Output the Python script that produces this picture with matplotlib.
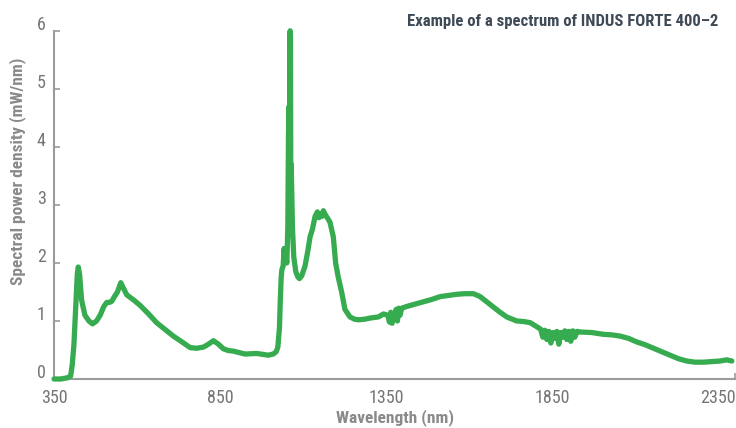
import matplotlib
matplotlib.use("Agg")
import matplotlib.pyplot as plt
from matplotlib import font_manager
import matplotlib.transforms as mtransforms

# ---------------- data ----------------
wavelength = [
    350, 370, 390, 400, 405, 410, 415, 420, 423, 427,
    433, 443, 455, 466, 478, 489, 500, 509, 517, 524,
    532, 541, 551, 556, 569, 590, 609, 635, 659, 685,
    709, 735, 760, 780, 800, 815, 830, 845, 860, 875,
    890, 925, 960, 995, 1010, 1019, 1024, 1029, 1031, 1034,
    1036, 1040, 1043, 1045, 1048, 1051, 1054, 1056, 1058, 1059,
    1060, 1061, 1062, 1063, 1064, 1066, 1068, 1072, 1078, 1084,
    1089, 1096, 1106, 1114, 1121, 1128, 1136, 1143, 1148, 1151,
    1156, 1161, 1168, 1175, 1181, 1191, 1198, 1206, 1216, 1226,
    1241, 1255, 1267, 1285, 1302, 1327, 1342, 1355, 1360, 1364,
    1368, 1372, 1376, 1380, 1384, 1388, 1392, 1397, 1412, 1437,
    1462, 1487, 1513, 1538, 1563, 1588, 1613, 1633, 1653, 1673,
    1693, 1713, 1743, 1765, 1784, 1804, 1815, 1822, 1828, 1834,
    1840, 1846, 1852, 1858, 1864, 1870, 1876, 1882, 1888, 1894,
    1900, 1906, 1912, 1918, 1925, 1934, 1970, 2004, 2030, 2054,
    2080, 2104, 2130, 2155, 2180, 2205, 2230, 2255, 2280, 2306,
    2330, 2356, 2375, 2391,
]
power_density = [
    0.00, 0.00, 0.02, 0.05, 0.25, 0.60, 1.20, 1.80, 1.93, 1.80,
    1.36, 1.10, 1.00, 0.95, 1.00, 1.10, 1.25, 1.32, 1.32, 1.34,
    1.42, 1.50, 1.66, 1.60, 1.45, 1.36, 1.27, 1.12, 0.97, 0.85,
    0.74, 0.64, 0.54, 0.53, 0.55, 0.60, 0.66, 0.60, 0.52, 0.49,
    0.48, 0.43, 0.44, 0.41, 0.43, 0.47, 0.55, 0.90, 1.30, 1.75,
    1.88, 1.95, 2.25, 2.00, 2.15, 2.00, 2.60, 4.20, 4.70, 3.50,
    5.90, 6.00, 5.90, 3.10, 3.70, 3.20, 2.60, 2.10, 1.85, 1.76,
    1.73, 1.78, 1.95, 2.20, 2.45, 2.58, 2.80, 2.88, 2.78, 2.85,
    2.80, 2.90, 2.82, 2.76, 2.70, 2.45, 2.00, 1.75, 1.50, 1.20,
    1.07, 1.03, 1.02, 1.03, 1.05, 1.07, 1.12, 1.10, 0.98, 1.15,
    0.96, 1.12, 1.05, 1.20, 1.00, 1.22, 1.10, 1.22, 1.25, 1.29,
    1.33, 1.37, 1.42, 1.44, 1.46, 1.47, 1.47, 1.42, 1.33, 1.24,
    1.15, 1.07, 1.00, 0.99, 0.97, 0.90, 0.86, 0.72, 0.84, 0.68,
    0.82, 0.62, 0.80, 0.70, 0.82, 0.60, 0.80, 0.72, 0.83, 0.68,
    0.82, 0.65, 0.83, 0.72, 0.82, 0.81, 0.80, 0.77, 0.76, 0.74,
    0.70, 0.64, 0.59, 0.53, 0.47, 0.41, 0.35, 0.31, 0.29, 0.29,
    0.30, 0.31, 0.33, 0.31,
]
x_tick_labels = [350, 850, 1350, 1850, 2350]
y_tick_labels = [0, 1, 2, 3, 4, 5, 6]
title_text = "Example of a spectrum of INDUS FORTE 400\u20132"
x_label = "Wavelength (nm)"
y_label = "Spectral power density (mW/nm)"

# ---------------- font choice ----------------
available = {f.name for f in font_manager.fontManager.ttflist}
stretch = "normal"
for cand in ["Roboto Condensed", "Open Sans Condensed", "Liberation Sans Narrow"]:
    if cand in available:
        font = cand
        break
else:
    font = "DejaVu Sans"
    stretch = "condensed"
plt.rcParams["font.family"] = [font, "DejaVu Sans"]
plt.rcParams["font.stretch"] = stretch

GREEN = "#37ab4f"
AXIS = "#9b9b9b"
TICKTXT = "#757575"
LABEL = "#8a8a8a"
TITLE = "#3e4a56"

fig = plt.figure(figsize=(7.36, 4.28), dpi=100)
ax = fig.add_axes([0.0734, 0.1145, 0.925, 0.8135])

ax.plot(wavelength, power_density, color=GREEN, lw=3.8,
        solid_joinstyle="round", solid_capstyle="round", clip_on=False, zorder=3)

ax.set_xlim(350, 2400)
ax.set_ylim(0, 6)

for s in ["top", "right"]:
    ax.spines[s].set_visible(False)
for s in ["left", "bottom"]:
    ax.spines[s].set_color(AXIS)
    ax.spines[s].set_linewidth(1.5)

ax.set_xticks(x_tick_labels)
ax.set_xticklabels([str(v) for v in x_tick_labels])
ax.set_xticks([850, 1350, 1850, 2400], minor=True)
ax.set_yticks(y_tick_labels)
ax.set_yticklabels([str(v) for v in y_tick_labels])
ax.tick_params(axis="x", which="major", length=0, pad=7, labelsize=13, labelcolor=TICKTXT)
ax.tick_params(axis="x", which="minor", direction="in", length=4, width=1.2, color=AXIS)
ax.tick_params(axis="y", which="major", direction="in", length=4, width=1.2, color=AXIS,
               pad=6, labelsize=13, labelcolor=TICKTXT)
for lbl in ax.get_yticklabels():
    lbl.set_va("bottom")
    lbl.set_transform(lbl.get_transform() + mtransforms.ScaledTranslation(0, -2 / 72, fig.dpi_scale_trans))

fig.text(0.9755, 0.9486, title_text, ha="right", va="center", fontsize=12,
         fontweight="bold", color=TITLE)
fig.text(0.537, 0.025, x_label, ha="center", va="center", fontsize=12.5,
         fontweight="bold", color=LABEL)
fig.text(0.0245, 0.599, y_label, ha="center", va="center", rotation=90, fontsize=12.5,
         fontweight="bold", color=LABEL)

fig.savefig("out.png", dpi=100, facecolor="white")
